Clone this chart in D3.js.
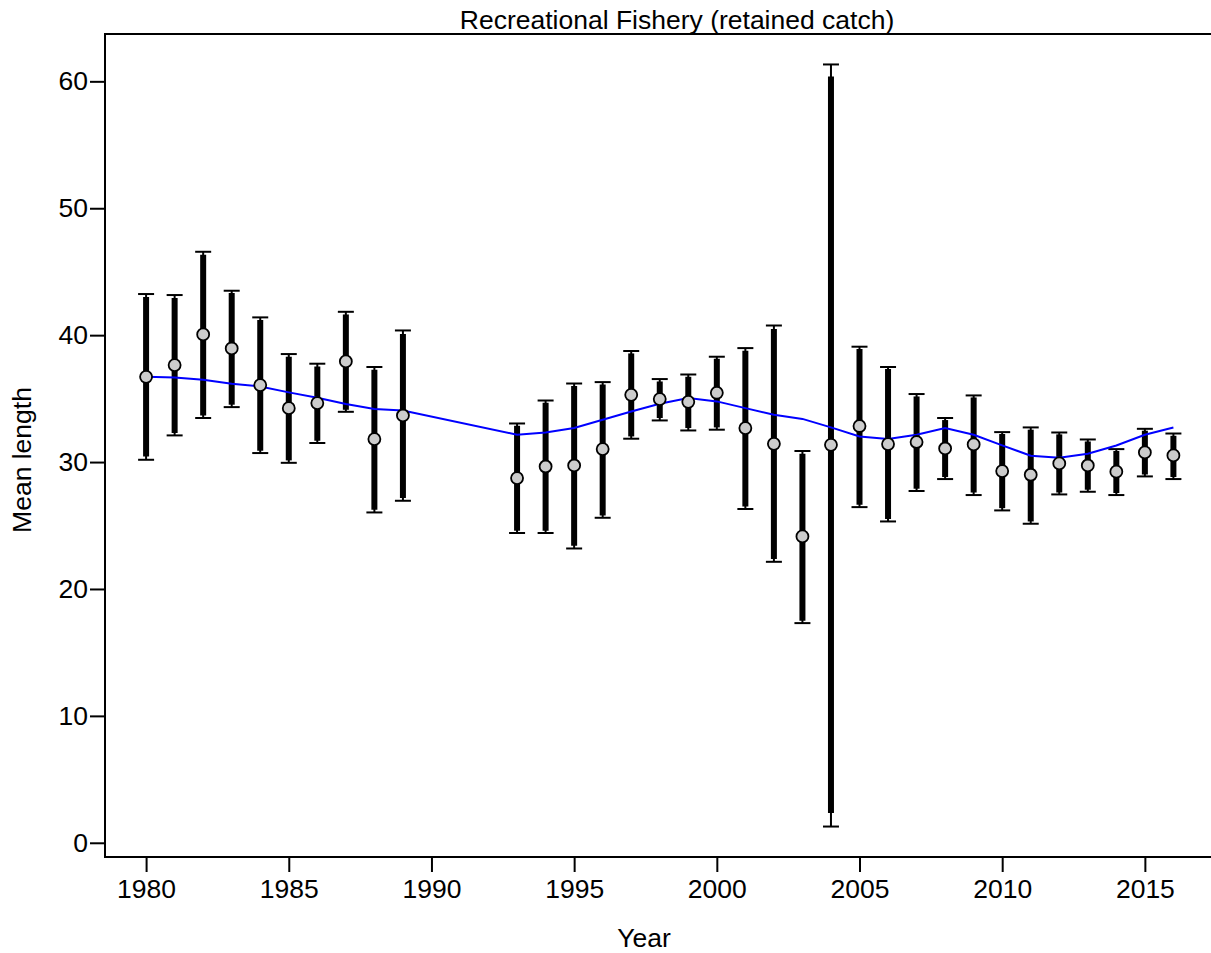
<!DOCTYPE html>
<html>
<head>
<meta charset="utf-8">
<script src="https://cdn.jsdelivr.net/npm/d3@7"></script>
<style>
  body { margin: 0; background: #fff; }
  text { font-family: "Liberation Sans", Arial, sans-serif; }
</style>
</head>
<body>
<div class="viz1"></div>
<script>
// data
var years = [1980, 1981, 1982, 1983, 1984, 1985, 1986, 1987, 1988, 1989,
             1993, 1994, 1995, 1996, 1997, 1998, 1999, 2000, 2001, 2002,
             2003, 2004, 2005, 2006, 2007, 2008, 2009, 2010, 2011, 2012,
             2013, 2014, 2015, 2016];

var obs = [36.72, 37.64, 40.06, 38.95, 36.07, 34.25, 34.65, 37.93, 31.81, 33.67,
           28.74, 29.65, 29.73, 31.02, 35.30, 34.96, 34.75, 35.46, 32.68, 31.44,
           24.14, 31.36, 32.84, 31.42, 31.58, 31.07, 31.39, 29.29, 29.00, 29.89,
           29.73, 29.24, 30.76, 30.52];

var thickLo = [30.44, 32.29, 33.67, 34.52, 30.89, 30.13, 31.68, 34.12, 26.24, 27.16,
               24.59, 24.59, 23.40, 25.79, 32.02, 33.47, 32.68, 32.73, 26.50, 22.36,
               17.49, 2.34, 26.64, 25.51, 27.90, 28.82, 27.60, 26.37, 25.32, 27.60,
               27.82, 27.56, 29.02, 28.82];

var thickHi = [43.00, 42.92, 46.34, 43.32, 41.19, 38.30, 37.53, 41.63, 37.27, 40.09,
               32.86, 34.67, 35.99, 36.12, 38.56, 36.35, 36.72, 38.14, 38.77, 40.48,
               30.65, 60.38, 38.90, 37.33, 35.17, 33.31, 35.09, 32.21, 32.55, 32.18,
               31.62, 30.87, 32.47, 32.07];

var whiskLo = [30.18, 32.10, 33.47, 34.33, 30.71, 29.94, 31.50, 33.96, 26.03, 26.95,
               24.41, 24.41, 23.19, 25.61, 31.84, 33.28, 32.49, 32.55, 26.30, 22.14,
               17.31, 1.28, 26.45, 25.32, 27.72, 28.66, 27.40, 26.19, 25.14, 27.45,
               27.66, 27.40, 28.87, 28.66];

var whiskHi = [43.24, 43.16, 46.57, 43.50, 41.40, 38.51, 37.75, 41.84, 37.49, 40.37,
               33.04, 34.85, 36.19, 36.30, 38.75, 36.54, 36.90, 38.30, 38.98, 40.76,
               30.87, 61.33, 39.09, 37.49, 35.36, 33.47, 35.25, 32.36, 32.73, 32.33,
               31.78, 31.02, 32.62, 32.25];

var fit = [36.72, 36.67, 36.49, 36.17, 35.96, 35.49, 35.07, 34.57, 34.18, 34.07,
           32.15, 32.33, 32.68, 33.33, 33.99, 34.59, 35.04, 34.78, 34.25, 33.73,
           33.40, 32.73, 32.02, 31.81, 32.15, 32.68, 32.15, 31.31, 30.50, 30.34,
           30.65, 31.31, 32.15, 32.73];

var xTicks = [1980, 1985, 1990, 1995, 2000, 2005, 2010, 2015];
var yTicks = [0, 10, 20, 30, 40, 50, 60];

var dataset = years.map(function(y, i) {
    return {
        Year: y,
        Mean: obs[i],
        Lo: thickLo[i],
        Hi: thickHi[i],
        WLo: whiskLo[i],
        WHi: whiskHi[i],
        Fit: fit[i]
    };
});

var w = 1211;
var h = 953;
var padL = 105, padR = 1214.5, padT = 34, padB = 857;
var fs = 26.5;

var xScale = d3.scaleLinear()
            .domain([1978.56, 2017.44])
            .range([padL, padR]);

var yScale = d3.scaleLinear()
            .domain([-1.12, 63.73])
            .range([padB, padT]);

var svg = d3.select(".viz1")
        .append("svg")
        .attr("width", w)
        .attr("height", h);

// whiskers with caps
var wh = svg.append("g")
        .attr("stroke", "black")
        .attr("stroke-width", 2);

wh.selectAll("line.wk")
    .data(dataset)
    .enter()
    .append("line")
    .attr("class", "wk")
    .attr("x1", function(d) { return xScale(d.Year); })
    .attr("x2", function(d) { return xScale(d.Year); })
    .attr("y1", function(d) { return yScale(d.WLo); })
    .attr("y2", function(d) { return yScale(d.WHi); });

wh.selectAll("line.capHi")
    .data(dataset)
    .enter()
    .append("line")
    .attr("class", "capHi")
    .attr("x1", function(d) { return xScale(d.Year) - 8; })
    .attr("x2", function(d) { return xScale(d.Year) + 8; })
    .attr("y1", function(d) { return yScale(d.WHi); })
    .attr("y2", function(d) { return yScale(d.WHi); });

wh.selectAll("line.capLo")
    .data(dataset)
    .enter()
    .append("line")
    .attr("class", "capLo")
    .attr("x1", function(d) { return xScale(d.Year) - 8; })
    .attr("x2", function(d) { return xScale(d.Year) + 8; })
    .attr("y1", function(d) { return yScale(d.WLo); })
    .attr("y2", function(d) { return yScale(d.WLo); });

// thick bars
svg.append("g")
    .selectAll("line")
    .data(dataset)
    .enter()
    .append("line")
    .attr("x1", function(d) { return xScale(d.Year); })
    .attr("x2", function(d) { return xScale(d.Year); })
    .attr("y1", function(d) { return yScale(d.Lo); })
    .attr("y2", function(d) { return yScale(d.Hi); })
    .attr("stroke", "black")
    .attr("stroke-width", 6);

// expected line
var line = d3.line()
            .x(function(d) { return xScale(d.Year); })
            .y(function(d) { return yScale(d.Fit); });

svg.append("path")
    .datum(dataset)
    .attr("d", line)
    .attr("fill", "none")
    .attr("stroke", "#0000ff")
    .attr("stroke-width", 2);

// points
svg.selectAll("circle")
    .data(dataset)
    .enter()
    .append("circle")
    .attr("cx", function(d) { return xScale(d.Year); })
    .attr("cy", function(d) { return yScale(d.Mean); })
    .attr("r", 6)
    .attr("fill", "#cccccc")
    .attr("stroke", "black")
    .attr("stroke-width", 1.8);

// axes
var xaxis = d3.axisBottom(xScale)
            .tickValues(xTicks)
            .tickSize(15)
            .tickPadding(7)
            .tickFormat(d3.format("d"));

var yaxis = d3.axisLeft(yScale)
            .tickValues(yTicks)
            .tickSize(15)
            .tickPadding(2);

var gx = svg.append("g")
     .attr("class", "x axis")
     .attr("transform", "translate(0," + padB + ")")
     .call(xaxis);

var gy = svg.append("g")
     .attr("class", "y axis")
     .attr("transform", "translate(" + padL + ",0)")
     .call(yaxis);

[gx, gy].forEach(function(g) {
    g.select(".domain").remove();
    g.selectAll("line").attr("stroke", "black").attr("stroke-width", 2);
    g.selectAll("text")
        .attr("font-size", fs + "px")
        .attr("fill", "black")
        .style("font-family", "'Liberation Sans', Arial, sans-serif");
});

// plot box
svg.append("rect")
    .attr("x", padL)
    .attr("y", padT)
    .attr("width", padR - padL)
    .attr("height", padB - padT)
    .attr("fill", "none")
    .attr("stroke", "black")
    .attr("stroke-width", 2);

// titles
svg.append("text")
    .attr("x", 677)
    .attr("y", 29)
    .attr("text-anchor", "middle")
    .attr("font-size", fs + "px")
    .text("Recreational Fishery (retained catch)");

svg.append("text")
    .attr("x", 644)
    .attr("y", 947)
    .attr("text-anchor", "middle")
    .attr("font-size", fs + "px")
    .text("Year");

svg.append("text")
    .attr("transform", "translate(31,460) rotate(-90)")
    .attr("text-anchor", "middle")
    .attr("font-size", fs + "px")
    .text("Mean length");
</script>
</body>
</html>
